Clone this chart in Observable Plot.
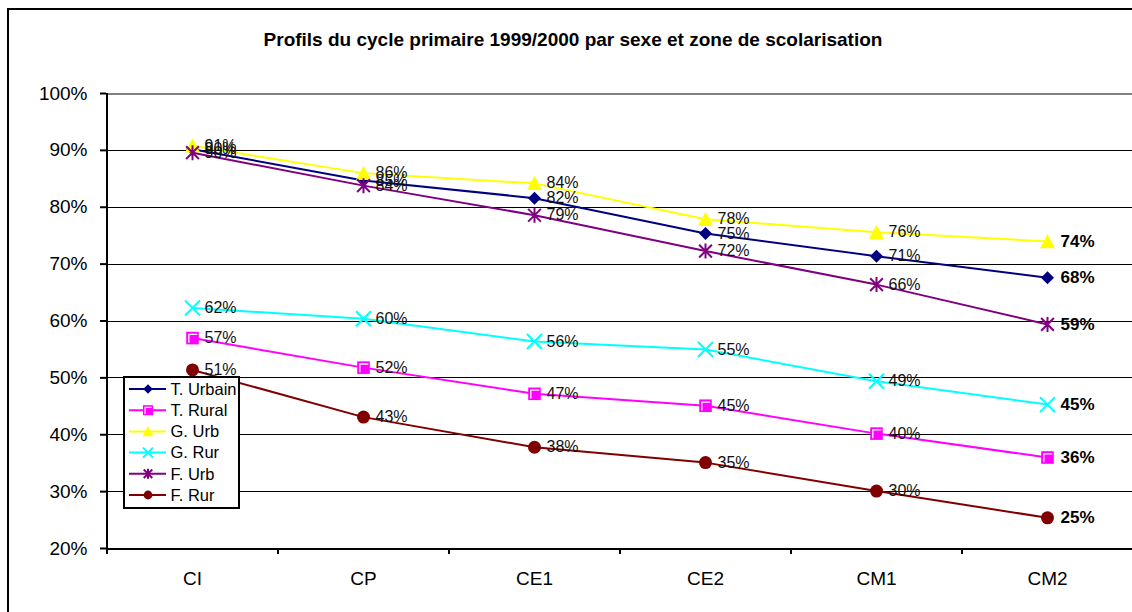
<!DOCTYPE html>
<html><head><meta charset="utf-8">
<script src="https://cdn.jsdelivr.net/npm/d3@7"></script>
<script src="https://cdn.jsdelivr.net/npm/@observablehq/plot@0.6"></script>
<style>
body{margin:0;background:#fff;overflow:hidden;font-family:"Liberation Sans",Arial,sans-serif;}
#wrap{position:relative;width:1132px;height:612px;overflow:hidden;background:#fff;}
#frame{position:absolute;left:7px;top:8px;width:1300px;height:800px;border:2px solid #000;box-sizing:border-box;}
#title{position:absolute;left:0;top:30px;width:1146px;text-align:center;font-weight:bold;font-size:19px;line-height:20px;color:#000;}
#chart{position:absolute;left:0;top:0;}
#legend{position:absolute;left:123px;top:376px;width:117px;height:133px;border:2px solid #000;box-sizing:border-box;background:#fff;}
#legend svg{position:absolute;left:0;top:0;}
</style></head>
<body>
<div id="wrap">
  <div id="frame"></div>
  <div id="chart"></div>
  <div id="title">Profils du cycle primaire 1999/2000 par sexe et zone de scolarisation</div>
  <div id="legend"></div>
</div>
<script>
// ---- data ----
const categories = ["CI", "CP", "CE1", "CE2", "CM1", "CM2"];
const seriesNames = ["T. Urbain", "T. Rural", "G. Urb", "G. Rur", "F. Urb", "F. Rur"];
const tUrbain = [90.2, 84.7, 81.6, 75.4, 71.4, 67.6];
const tRural  = [57.0, 51.8, 47.2, 45.1, 40.2, 36.0];
const gUrb    = [90.8, 86.0, 84.2, 77.9, 75.6, 74.0];
const gRur    = [62.3, 60.4, 56.4, 55.0, 49.4, 45.3];
const fUrb    = [89.6, 83.8, 78.6, 72.3, 66.4, 59.4];
const fRur    = [51.4, 43.1, 37.8, 35.1, 30.1, 25.4];
const yTicks  = [20, 30, 40, 50, 60, 70, 80, 90, 100];
const seriesValues = [tUrbain, tRural, gUrb, gRur, fUrb, fRur];

// ---- styles ----
const colors = ["#000080", "#FF00FF", "#FFFF00", "#00FFFF", "#800080", "#800000"];
const kinds  = ["diamond", "square", "triangle", "x", "asterisk", "circle"];
const sizes  = [6.5, 6.3, 7.5, 7.5, 7.5, 6.5];
const legendSizes = [4.8, 5.0, 5.5, 5.0, 5.0, 4.4];

function drawShape(kind, ctx, h) {
  switch (kind) {
    case "diamond": ctx.moveTo(0,-h); ctx.lineTo(h,0); ctx.lineTo(0,h); ctx.lineTo(-h,0); ctx.closePath(); break;
    case "square": ctx.rect(-h,-h,2*h,2*h); break;
    case "squareMark": ctx.moveTo(-h+0.42*h, h-0.25*h); ctx.lineTo(-h+0.42*h, -h+0.42*h); ctx.lineTo(h-0.25*h, -h+0.42*h); break;
    case "triangle": ctx.moveTo(0,-h); ctx.lineTo(h,0.9*h); ctx.lineTo(-h,0.9*h); ctx.closePath(); break;
    case "x": ctx.moveTo(-h,-h); ctx.lineTo(h,h); ctx.moveTo(h,-h); ctx.lineTo(-h,h); break;
    case "asterisk": ctx.moveTo(-h*0.85,-h*0.85); ctx.lineTo(h*0.85,h*0.85); ctx.moveTo(h*0.85,-h*0.85); ctx.lineTo(-h*0.85,h*0.85); ctx.moveTo(0,-h); ctx.lineTo(0,h); break;
    case "circle": ctx.moveTo(h,0); ctx.arc(0,0,h,0,2*Math.PI); ctx.closePath(); break;
  }
}
function sym(kind) { return {draw(ctx, size) { drawShape(kind, ctx, Math.sqrt(size/Math.PI)); }}; }
const stroked = k => k === "x" || k === "asterisk";

// ---- table ----
const rows = [];
seriesNames.forEach((s, si) => categories.forEach((c, ci) => rows.push({series: s, si, cat: c, ci, v: seriesValues[si][ci]})));

const halfStep = 171 / 2;
const crisp = {shapeRendering: "crispEdges"};
const marks = [
  Plot.ruleY(yTicks.filter(d => d > 20 && d < 100), {stroke: "#000", strokeWidth: 1, ...crisp}),
  Plot.ruleY([100], {stroke: "#808080", strokeWidth: 2, ...crisp}),
  Plot.ruleY([20], {stroke: "#000", strokeWidth: 2, ...crisp}),
  Plot.ruleX([categories[0]], {x: d => d, dx: -halfStep, y1: 20, y2: 100, stroke: "#000", strokeWidth: 2, ...crisp}),
  Plot.ruleX(categories, {x: d => d, dx: -halfStep, y1: 20, y2: 20, insetBottom: -6, stroke: "#000", strokeWidth: 2, ...crisp}),
  Plot.axisY({ticks: yTicks, tickFormat: d => d + "%", tickSize: 6, tickPadding: 13, fontSize: 19, label: null, strokeWidth: 2}),
  Plot.axisX({tickSize: 0, tickPadding: 23, fontSize: 19, label: null})
];
seriesNames.forEach((s, si) => {
  const data = rows.filter(r => r.si === si);
  const k = kinds[si];
  marks.push(Plot.line(data, {x: "cat", y: "v", stroke: colors[si], strokeWidth: 2}));
  if (stroked(k)) {
    marks.push(Plot.dot(data, {x: "cat", y: "v", r: sizes[si], symbol: sym(k), fill: "none", stroke: colors[si], strokeWidth: 2}));
  } else {
    marks.push(Plot.dot(data, {x: "cat", y: "v", r: sizes[si], symbol: sym(k), fill: colors[si], stroke: "none"}));
    if (k === "square") marks.push(Plot.dot(data, {x: "cat", y: "v", r: sizes[si], symbol: sym("squareMark"), fill: "none", stroke: "#fff", strokeWidth: 1.3}));
  }
});
const last = categories[categories.length - 1];
marks.push(Plot.text(rows.filter(r => r.cat !== last), {x: "cat", y: "v", text: d => Math.round(d.v) + "%", dx: 12, textAnchor: "start", fontSize: 16, fill: "#111"}));
marks.push(Plot.text(rows.filter(r => r.cat === last), {x: "cat", y: "v", text: d => Math.round(d.v) + "%", dx: 13, textAnchor: "start", fontSize: 17, fontWeight: "bold", fill: "#000"}));

const chart = Plot.plot({
  width: 1132, height: 612,
  marginLeft: 106, marginRight: 0, marginTop: 93, marginBottom: 64,
  style: {fontFamily: '"Liberation Sans", Arial, sans-serif', background: "transparent", color: "#000"},
  x: {type: "point", domain: categories, padding: 0.5, axis: null},
  y: {domain: [20, 100], axis: null},
  marks
});
document.getElementById("chart").appendChild(chart);

// ---- legend ----
const lg = d3.select("#legend").append("svg").attr("width", 113).attr("height", 129);
seriesNames.forEach((s, si) => {
  const cy = 11 + si * 21.2;
  const g = lg.append("g").attr("transform", `translate(0,${cy})`);
  g.append("line").attr("x1", 4).attr("x2", 41).attr("y1", 0).attr("y2", 0).attr("stroke", colors[si]).attr("stroke-width", 2);
  const k = kinds[si];
  const p = d3.path(); drawShape(k, p, legendSizes[si]);
  g.append("path").attr("transform", "translate(23,0)").attr("d", p.toString())
    .attr("fill", stroked(k) ? "none" : colors[si]).attr("stroke", stroked(k) ? colors[si] : "none").attr("stroke-width", 2);
  if (k === "square") {
    const q = d3.path(); drawShape("squareMark", q, legendSizes[si]);
    g.append("path").attr("transform", "translate(23,0)").attr("d", q.toString()).attr("fill", "none").attr("stroke", "#fff").attr("stroke-width", 1.2);
  }
  g.append("text").attr("x", 45.5).attr("y", 0).attr("dy", "0.35em").attr("font-size", 16.5).attr("fill", "#000")
    .attr("font-family", '"Liberation Sans", Arial, sans-serif').text(s);
});
</script>
</body></html>
